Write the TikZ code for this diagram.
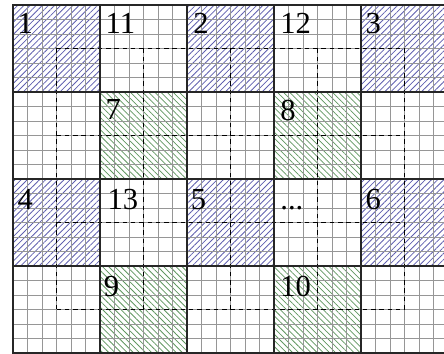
\documentclass[tikz,border=0pt]{standalone}
\usepackage{fontspec}
\setmainfont{Liberation Serif}
\usepackage{tikz}
\usetikzlibrary{patterns.meta}
\definecolor{hbblue}{RGB}{95,95,175}
\definecolor{hbgreen}{RGB}{95,150,95}
\definecolor{gridgray}{RGB}{150,150,150}
\tikzset{
  blueblock/.style={pattern={Lines[angle=45,distance=3.4pt,line width=0.6pt]},pattern color=hbblue},
  greenblock/.style={pattern={Lines[angle=-45,distance=3.4pt,line width=0.6pt]},pattern color=hbgreen},
  cellgrid/.style={draw=gridgray,line width=0.6pt},
  blockgrid/.style={draw=black!85,line width=1.1pt},
  centregrid/.style={draw=black,dash pattern=on 3.5pt off 3pt,line width=0.7pt},
  blocklabel/.style={anchor=base west,inner sep=0pt,font=\fontsize{24}{26}\selectfont}
}

\begin{document}
\begin{tikzpicture}
  \useasboundingbox (-0.359,-0.028) rectangle (11.890,9.738);
  \clip (-0.359,-0.028) rectangle (11.890,9.738);
  % hatched blocks
  \fill[blueblock] (0,7.2) rectangle (2.4,9.6);
  \fill[blueblock] (4.8,7.2) rectangle (7.2,9.6);
  \fill[blueblock] (9.6,7.2) rectangle (12,9.6);
  \fill[blueblock] (0,2.4) rectangle (2.4,4.8);
  \fill[blueblock] (4.8,2.4) rectangle (7.2,4.8);
  \fill[blueblock] (9.6,2.4) rectangle (12,4.8);
  \fill[greenblock] (2.4,4.8) rectangle (4.8,7.2);
  \fill[greenblock] (7.2,4.8) rectangle (9.6,7.2);
  \fill[greenblock] (2.4,0) rectangle (4.8,2.4);
  \fill[greenblock] (7.2,0) rectangle (9.6,2.4);
  % cells and blocks
  \draw[cellgrid,step=0.4] (0,0) grid (12,9.6);
  \foreach \x in {1.2,3.6,6.0,8.4,10.8}
    \draw[centregrid] (\x,1.2) -- (\x,8.4);
  \foreach \y in {1.2,3.6,6.0,8.4}
    \draw[centregrid] (1.2,\y) -- (10.8,\y);
  \draw[blockgrid,step=2.4] (0,0) grid (12,9.6);
  \draw[blockgrid,line width=1.5pt] (12,0) -- (0,0) -- (0,9.6) -- (12,9.6);
  % labels
  \node[blocklabel] (lab1) at (0.12,8.82) {1};
  \node[blocklabel] (lab11) at (2.55,8.82) {11};
  \node[blocklabel] (lab2) at (4.97,8.82) {2};
  \node[blocklabel] (lab12) at (7.37,8.82) {12};
  \node[blocklabel] (lab3) at (9.72,8.82) {3};
  \node[blocklabel] (lab7) at (2.55,6.45) {7};
  \node[blocklabel] (lab8) at (7.37,6.4) {8};
  \node[blocklabel] (lab4) at (0.12,3.95) {4};
  \node[blocklabel] (lab13) at (2.6,3.95) {13};
  \node[blocklabel] (lab5) at (4.9,3.95) {5};
  \node[blocklabel] (labdots) at (7.37,3.95) {...};
  \node[blocklabel] (lab6) at (9.72,3.95) {6};
  \node[blocklabel] (lab9) at (2.5,1.55) {9};
  \node[blocklabel] (lab10) at (7.37,1.55) {10};
\end{tikzpicture}
\end{document}
